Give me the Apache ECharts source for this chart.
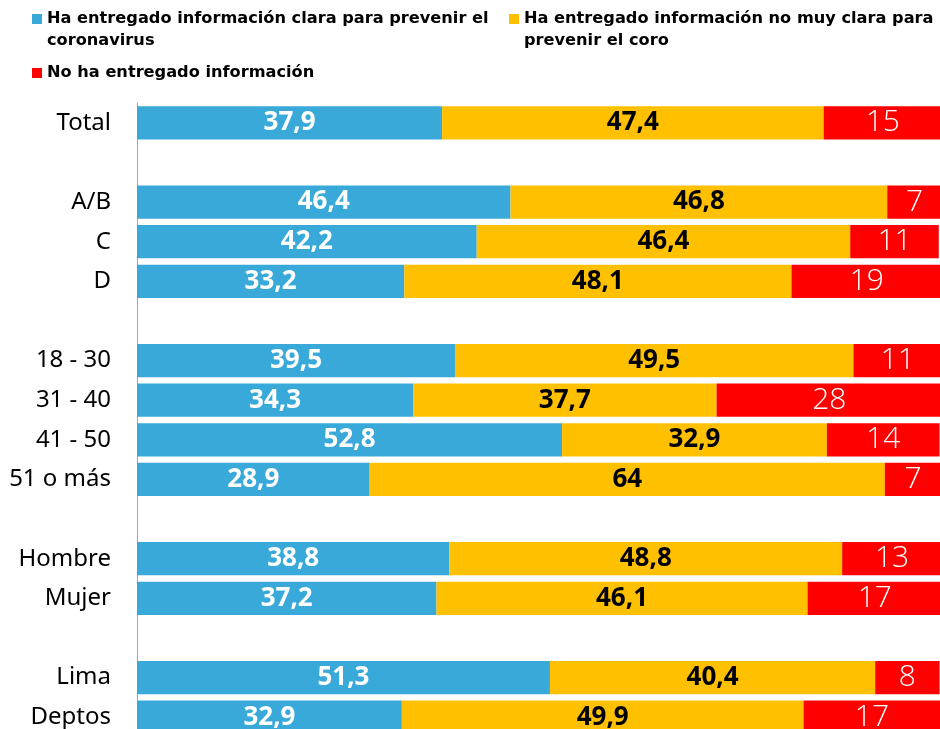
<!DOCTYPE html>
<html>
<head>
<meta charset="utf-8">
<script src="https://cdn.jsdelivr.net/npm/echarts@6/dist/echarts.min.js"></script>
<style>
  html, body { margin: 0; padding: 0; background: #fff; overflow: hidden; }
  /* the original is cropped on the right and at the bottom */
  #chart { width: 960px; height: 740px; }
</style>
</head>
<body>
<div id="chart"></div>
<script>
// rows from top to bottom, blank rows separate the groups
const categories = ['Total', ' ', 'A/B', 'C', 'D', '  ', '18 - 30', '31 - 40', '41 - 50', '51 o más',
  '   ', 'Hombre', 'Mujer', '    ', 'Lima', 'Deptos'];
const clara = [37.9, null, 46.4, 42.2, 33.2, null, 39.5, 34.3, 52.8, 28.9, null, 38.8, 37.2, null, 51.3, 32.9];
const noMuyClara = [47.4, null, 46.8, 46.4, 48.1, null, 49.5, 37.7, 32.9, 64, null, 48.8, 46.1, null, 40.4, 49.9];
const noEntregado = [15, null, 7, 11, 19, null, 11, 28, 14, 7, null, 13, 17, null, 8, 17];

const seriesNames = [
  'Ha entregado información clara para prevenir el coronavirus',
  'Ha entregado información no muy clara para prevenir el coro',
  'No ha entregado información'
];
// legend text is wrapped: first line in the legend, second line below it
const legendLine1 = {
  [seriesNames[0]]: 'Ha entregado información clara para prevenir el',
  [seriesNames[1]]: 'Ha entregado información no muy clara para',
  [seriesNames[2]]: 'No ha entregado información'
};
const legendLine2 = ['coronavirus', 'prevenir el coro'];

const comma = p => String(p.value).replace('.', ',');

const legendFont = {
  fontFamily: 'DejaVu Sans',
  fontWeight: 'bold',
  fontSize: 16.2,
  lineHeight: 20,
  color: '#000'
};

const legendBase = {
  icon: 'rect',
  itemWidth: 10,
  itemHeight: 10,
  selectedMode: false,
  padding: 0,
  formatter: n => legendLine1[n],
  textStyle: legendFont
};

const chart = echarts.init(document.getElementById('chart'));
chart.setOption({
  animation: false,
  legend: [
    Object.assign({}, legendBase, { data: [seriesNames[0]], left: 32, top: 9 }),
    Object.assign({}, legendBase, { data: [seriesNames[1]], left: 509, top: 9 }),
    Object.assign({}, legendBase, { data: [seriesNames[2]], left: 32, top: 63 })
  ],
  graphic: [
    { type: 'text', left: 47, top: 33, style: { text: legendLine2[0], fill: '#000', font: 'bold 16.2px "DejaVu Sans"' } },
    { type: 'text', left: 524, top: 33, style: { text: legendLine2[1], fill: '#000', font: 'bold 16.2px "DejaVu Sans"' } }
  ],
  grid: { left: 137, width: 805, top: 103, height: 634 },
  xAxis: {
    type: 'value',
    min: 0,
    max: 100,
    show: false
  },
  yAxis: {
    type: 'category',
    inverse: true,
    data: categories,
    axisLine: { show: true, lineStyle: { color: '#a6a6a6', width: 1 } },
    axisTick: { show: false },
    axisLabel: {
      margin: 26,
      fontFamily: 'Noto Sans',
      fontSize: 24,
      color: '#000'
    }
  },
  series: [
    {
      name: seriesNames[0],
      type: 'bar',
      stack: 'total',
      barCategoryGap: '16%',
      data: clara,
      itemStyle: { color: '#38a9d9' },
      label: {
        show: true,
        position: 'inside',
        formatter: comma,
        color: '#fff',
        fontFamily: 'Open Sans',
        fontWeight: 'bold',
        fontSize: 26
      }
    },
    {
      name: seriesNames[1],
      type: 'bar',
      stack: 'total',
      data: noMuyClara,
      itemStyle: { color: '#ffc000' },
      label: {
        show: true,
        position: 'inside',
        formatter: comma,
        color: '#000',
        fontFamily: 'Open Sans',
        fontWeight: 'bold',
        fontSize: 26
      }
    },
    {
      name: seriesNames[2],
      type: 'bar',
      stack: 'total',
      data: noEntregado,
      itemStyle: { color: '#ff0000' },
      label: {
        show: true,
        position: 'inside',
        formatter: comma,
        color: '#fff',
        fontFamily: 'Open Sans',
        fontWeight: 300,
        fontSize: 30
      }
    }
  ]
});
</script>
</body>
</html>
